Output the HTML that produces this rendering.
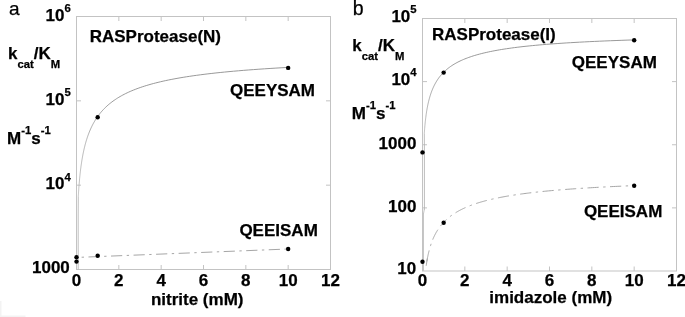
<!DOCTYPE html>
<html><head><meta charset="utf-8"><title>figure</title>
<style>
html,body{margin:0;padding:0;background:#fff;overflow:hidden;}
svg{display:block;font-family:"Liberation Sans",Arial,Helvetica,sans-serif;}
text{fill:#000;stroke:#000;stroke-width:0.25px;}
text[font-weight="bold"]{stroke:#000;stroke-width:0.25px;stroke-linejoin:round;}
</style></head><body>
<svg width="685" height="317" viewBox="0 0 685 317">
<rect width="685" height="317" fill="#fff"/>
<path d="M0 301h1.5v14.5h24v1.5h-25.5z" fill="#f3f3f3"/>
<defs><linearGradient id="gl" gradientUnits="userSpaceOnUse" x1="0" y1="95" x2="0" y2="175"><stop offset="0" stop-color="#868686"/><stop offset="1" stop-color="#b4b4b4"/></linearGradient><linearGradient id="gr" gradientUnits="userSpaceOnUse" x1="0" y1="70" x2="0" y2="135"><stop offset="0" stop-color="#868686"/><stop offset="1" stop-color="#b0b0b0"/></linearGradient></defs>
<rect x="76.5" y="16.5" width="254.0" height="253.0" fill="none" stroke="#c3c3c3" stroke-width="1"/>
<path d="M118.83 269.5v-4.5M118.83 16.5v4.5M161.17 269.5v-4.5M161.17 16.5v4.5M203.50 269.5v-4.5M203.50 16.5v4.5M245.83 269.5v-4.5M245.83 16.5v4.5M288.17 269.5v-4.5M288.17 16.5v4.5M76.5 185.17h4.5M330.5 185.17h-4.5M76.5 100.83h4.5M330.5 100.83h-4.5" stroke="#c3c3c3" stroke-width="1" fill="none"/>
<rect x="422.5" y="18.5" width="254.0" height="252.5" fill="none" stroke="#c3c3c3" stroke-width="1"/>
<path d="M464.83 271.0v-4.5M464.83 18.5v4.5M507.17 271.0v-4.5M507.17 18.5v4.5M549.50 271.0v-4.5M549.50 18.5v4.5M591.83 271.0v-4.5M591.83 18.5v4.5M634.17 271.0v-4.5M634.17 18.5v4.5M422.5 207.88h4.5M676.5 207.88h-4.5M422.5 144.75h4.5M676.5 144.75h-4.5M422.5 81.62h4.5M676.5 81.62h-4.5" stroke="#c3c3c3" stroke-width="1" fill="none"/>
<path d="M78.20 269.50 L78.20 215.00 L78.30 196.59 L78.35 195.63 L78.41 194.67 L78.47 193.71 L78.53 192.75 L78.59 191.78 L78.65 190.81 L78.72 189.84 L78.78 188.87 L78.85 187.90 L78.92 186.92 L79.00 185.95 L79.07 184.97 L79.15 183.99 L79.23 183.00 L79.31 182.02 L79.40 181.04 L79.49 180.05 L79.58 179.06 L79.67 178.08 L79.77 177.09 L79.86 176.10 L79.97 175.11 L80.07 174.12 L80.18 173.12 L80.29 172.13 L80.40 171.14 L80.52 170.15 L80.64 169.15 L80.77 168.16 L80.90 167.16 L81.03 166.17 L81.17 165.18 L81.31 164.18 L81.46 163.19 L81.61 162.19 L81.76 161.20 L81.92 160.21 L82.08 159.22 L82.25 158.22 L82.43 157.23 L82.60 156.24 L82.79 155.25 L82.98 154.26 L83.18 153.27 L83.38 152.28 L83.59 151.30 L83.80 150.31 L84.02 149.33 L84.25 148.34 L84.48 147.36 L84.72 146.38 L84.97 145.40 L85.23 144.43 L85.49 143.45 L85.76 142.48 L86.04 141.50 L86.33 140.53 L86.63 139.57 L86.94 138.60 L87.25 137.64 L87.58 136.68 L87.91 135.72 L88.26 134.76 L88.61 133.81 L88.98 132.85 L89.36 131.90 L89.75 130.96 L90.15 130.02 L90.56 129.08 L90.99 128.14 L91.42 127.20 L91.88 126.27 L92.34 125.35 L92.82 124.42 L93.31 123.50 L93.82 122.59 L94.35 121.67 L94.89 120.76 L95.44 119.86 L96.01 118.96 L96.60 118.06 L97.21 117.17 L97.84 116.28 L98.48 115.39 L99.15 114.51 L99.84 113.64 L100.54 112.77 L101.27 111.90 L102.02 111.04 L102.79 110.19 L103.58 109.34 L104.40 108.49 L105.25 107.65 L106.12 106.82 L107.01 105.99 L107.94 105.17 L108.89 104.35 L109.87 103.54 L110.88 102.74 L111.91 101.94 L112.99 101.14 L114.09 100.36 L115.23 99.58 L116.40 98.80 L117.60 98.03 L118.85 97.27 L120.13 96.52 L121.45 95.77 L122.81 95.03 L124.21 94.30 L125.65 93.57 L127.14 92.85 L128.67 92.14 L130.25 91.43 L131.87 90.73 L133.55 90.04 L135.27 89.36 L137.05 88.68 L138.88 88.01 L140.77 87.35 L142.71 86.70 L144.72 86.05 L146.78 85.42 L148.91 84.79 L151.10 84.17 L153.35 83.55 L155.68 82.95 L158.07 82.35 L160.54 81.76 L163.08 81.17 L165.70 80.60 L168.40 80.03 L171.18 79.48 L174.04 78.93 L176.99 78.38 L180.03 77.85 L183.16 77.32 L186.39 76.81 L189.71 76.30 L193.14 75.79 L196.66 75.30 L200.30 74.82 L204.04 74.34 L207.90 73.87 L211.87 73.41 L215.97 72.95 L220.19 72.51 L224.53 72.07 L229.01 71.64 L233.62 71.21 L238.38 70.80 L243.27 70.39 L248.32 69.99 L253.51 69.60 L258.87 69.21 L264.38 68.83 L270.07 68.46 L275.92 68.10 L281.95 67.74 L288.17 67.40" stroke="url(#gl)" stroke-width="0.85" fill="none"/>
<path d="M76.50 257.44 L288.17 249.00" stroke="#969696" stroke-width="0.85" fill="none" stroke-dasharray="11.2 4.5 2.35 4.5" stroke-dashoffset="10.55"/>
<circle cx="76.50" cy="257.20" r="2.2" fill="#000"/>
<circle cx="76.50" cy="261.59" r="2.2" fill="#000"/>
<circle cx="97.67" cy="255.82" r="2.2" fill="#000"/>
<circle cx="288.17" cy="249.00" r="2.2" fill="#000"/>
<circle cx="97.67" cy="117.29" r="2.2" fill="#000"/>
<circle cx="288.17" cy="67.89" r="2.2" fill="#000"/>
<path d="M424.40 210.00 L424.40 150.00 L424.30 133.35 L424.35 132.55 L424.41 131.75 L424.47 130.96 L424.53 130.17 L424.59 129.37 L424.65 128.58 L424.72 127.79 L424.78 126.99 L424.85 126.20 L424.92 125.41 L425.00 124.62 L425.07 123.83 L425.15 123.05 L425.23 122.26 L425.31 121.47 L425.40 120.69 L425.49 119.90 L425.58 119.12 L425.67 118.34 L425.77 117.56 L425.86 116.78 L425.97 116.00 L426.07 115.22 L426.18 114.44 L426.29 113.67 L426.40 112.89 L426.52 112.12 L426.64 111.34 L426.77 110.57 L426.90 109.80 L427.03 109.04 L427.17 108.27 L427.31 107.50 L427.46 106.74 L427.61 105.98 L427.76 105.21 L427.92 104.45 L428.08 103.70 L428.25 102.94 L428.43 102.19 L428.60 101.43 L428.79 100.68 L428.98 99.93 L429.18 99.18 L429.38 98.44 L429.59 97.70 L429.80 96.95 L430.02 96.21 L430.25 95.48 L430.48 94.74 L430.72 94.01 L430.97 93.28 L431.23 92.55 L431.49 91.82 L431.76 91.10 L432.04 90.38 L432.33 89.66 L432.63 88.94 L432.94 88.23 L433.25 87.52 L433.58 86.81 L433.91 86.11 L434.26 85.40 L434.61 84.71 L434.98 84.01 L435.36 83.32 L435.75 82.63 L436.15 81.94 L436.56 81.26 L436.99 80.58 L437.42 79.90 L437.88 79.23 L438.34 78.56 L438.82 77.89 L439.31 77.23 L439.82 76.57 L440.35 75.92 L440.89 75.27 L441.44 74.62 L442.01 73.98 L442.60 73.34 L443.21 72.71 L443.84 72.08 L444.48 71.45 L445.15 70.83 L445.84 70.21 L446.54 69.60 L447.27 68.99 L448.02 68.39 L448.79 67.79 L449.58 67.20 L450.40 66.61 L451.25 66.03 L452.12 65.45 L453.01 64.87 L453.94 64.31 L454.89 63.74 L455.87 63.18 L456.88 62.63 L457.91 62.08 L458.99 61.54 L460.09 61.01 L461.23 60.48 L462.40 59.95 L463.60 59.43 L464.85 58.92 L466.13 58.41 L467.45 57.91 L468.81 57.41 L470.21 56.92 L471.65 56.43 L473.14 55.95 L474.67 55.48 L476.25 55.01 L477.87 54.55 L479.55 54.10 L481.27 53.65 L483.05 53.20 L484.88 52.77 L486.77 52.33 L488.71 51.91 L490.72 51.49 L492.78 51.08 L494.91 50.67 L497.10 50.27 L499.35 49.87 L501.68 49.48 L504.07 49.10 L506.54 48.73 L509.08 48.36 L511.70 47.99 L514.40 47.63 L517.18 47.28 L520.04 46.93 L522.99 46.59 L526.03 46.26 L529.16 45.93 L532.39 45.61 L535.71 45.29 L539.14 44.98 L542.66 44.67 L546.30 44.37 L550.04 44.08 L553.90 43.79 L557.87 43.50 L561.97 43.23 L566.19 42.95 L570.53 42.69 L575.01 42.43 L579.62 42.17 L584.38 41.92 L589.27 41.67 L594.32 41.43 L599.51 41.19 L604.87 40.96 L610.38 40.74 L616.07 40.52 L621.92 40.30 L627.95 40.09 L634.17 39.88" stroke="url(#gr)" stroke-width="0.85" fill="none"/>
<path d="M423.45 271V214L424.4 209" stroke="#c3c3c3" stroke-width="1" fill="none"/>
<path d="M426.20 265.71 L426.27 265.25 L426.34 264.79 L426.40 264.33 L426.47 263.87 L426.54 263.41 L426.61 262.95 L426.68 262.49 L426.76 262.04 L426.83 261.58 L426.91 261.12 L426.99 260.67 L427.07 260.21 L427.15 259.75 L427.23 259.30 L427.31 258.84 L427.40 258.39 L427.48 257.93 L427.57 257.48 L427.66 257.02 L427.75 256.57 L427.84 256.12 L427.94 255.67 L428.03 255.21 L428.13 254.76 L428.23 254.31 L428.33 253.86 L428.43 253.41 L428.53 252.96 L428.64 252.51 L428.75 252.06 L428.86 251.61 L428.97 251.16 L429.08 250.72 L429.20 250.27 L429.32 249.82 L429.44 249.38 L429.56 248.93 L429.68 248.49 L429.81 248.04 L429.94 247.60 L430.07 247.16 L430.20 246.71 L430.34 246.27 L430.48 245.83 L430.62 245.39 L430.76 244.95 L430.90 244.51 L431.05 244.07 L431.20 243.63 L431.35 243.19 L431.51 242.75 L431.67 242.32 L431.83 241.88 L431.99 241.45 L432.16 241.01 L432.33 240.58 L432.50 240.14 L432.68 239.71 L432.86 239.28 L433.04 238.85 L433.23 238.42 L433.41 237.99 L433.61 237.56 L433.80 237.13 L434.00 236.70 L434.20 236.28 L434.41 235.85 L434.62 235.43 L434.83 235.00 L435.05 234.58 L435.27 234.16 L435.49 233.74 L435.72 233.32 L435.95 232.90 L436.19 232.48 L436.43 232.06 L436.68 231.64 L436.93 231.23 L437.18 230.81 L437.44 230.40 L437.70 229.98 L437.97 229.57 L438.24 229.16 L438.52 228.75 L438.80 228.34 L439.08 227.93 L439.38 227.52 L439.67 227.12 L439.97 226.71 L440.28 226.31 L440.59 225.91 L440.91 225.50 L441.24 225.10 L441.56 224.70 L441.90 224.31 L442.24 223.91 L442.59 223.51 L442.94 223.12 L443.30 222.72 L443.67 222.33" stroke="#969696" stroke-width="0.85" fill="none" stroke-dasharray="11.2 4.5 2.35 4.5" stroke-dashoffset="18.15"/>
<path d="M443.67 222.33 L443.91 222.07 L444.16 221.82 L444.41 221.56 L444.66 221.30 L444.92 221.04 L445.18 220.79 L445.44 220.53 L445.71 220.28 L445.98 220.02 L446.25 219.77 L446.52 219.52 L446.80 219.27 L447.08 219.01 L447.37 218.76 L447.66 218.51 L447.95 218.26 L448.24 218.01 L448.54 217.76 L448.84 217.52 L449.15 217.27 L449.46 217.02 L449.77 216.77 L450.08 216.53 L450.40 216.28 L450.73 216.04 L451.05 215.80 L451.38 215.55 L451.72 215.31 L452.06 215.07 L452.40 214.83 L452.74 214.59 L453.10 214.35 L453.45 214.11 L453.81 213.87 L454.17 213.63 L454.54 213.39 L454.91 213.16 L455.28 212.92 L455.66 212.69 L456.05 212.45 L456.44 212.22 L456.83 211.98 L457.23 211.75 L457.63 211.52 L458.03 211.29 L458.45 211.06 L458.86 210.83 L459.28 210.60 L459.71 210.37 L460.14 210.14 L460.58 209.92 L461.02 209.69 L461.46 209.47 L461.91 209.24 L462.37 209.02 L462.83 208.80 L463.30 208.57 L463.77 208.35 L464.25 208.13 L464.73 207.91 L465.22 207.69 L465.72 207.47 L466.22 207.26 L466.72 207.04 L467.24 206.82 L467.75 206.61 L468.28 206.39 L468.81 206.18 L469.34 205.97 L469.89 205.76 L470.43 205.54 L470.99 205.33 L471.55 205.12 L472.12 204.92 L472.69 204.71 L473.28 204.50 L473.86 204.29 L474.46 204.09 L475.06 203.88 L475.67 203.68 L476.28 203.48 L476.91 203.27 L477.54 203.07 L478.17 202.87 L478.82 202.67 L479.47 202.47 L480.13 202.28 L480.80 202.08 L481.47 201.88 L482.16 201.69 L482.85 201.49 L483.55 201.30 L484.25 201.11 L484.97 200.91 L485.69 200.72 L486.42 200.53 L487.16 200.34 L487.91 200.16 L488.67 199.97 L489.43 199.78 L490.21 199.60 L490.99 199.41 L491.79 199.23 L492.59 199.04 L493.40 198.86 L494.22 198.68 L495.05 198.50 L495.89 198.32 L496.74 198.14 L497.60 197.96 L498.47 197.79 L499.35 197.61 L500.24 197.43 L501.14 197.26 L502.05 197.09 L502.97 196.91 L503.91 196.74 L504.85 196.57 L505.80 196.40 L506.77 196.23 L507.74 196.06 L508.73 195.90 L509.73 195.73 L510.74 195.57 L511.76 195.40 L512.79 195.24 L513.84 195.08 L514.90 194.91 L515.97 194.75 L517.05 194.59 L518.14 194.43 L519.25 194.28 L520.37 194.12 L521.50 193.96 L522.65 193.81 L523.81 193.65 L524.98 193.50 L526.17 193.35 L527.37 193.20 L528.58 193.05 L529.81 192.90 L531.06 192.75 L532.31 192.60 L533.58 192.45 L534.87 192.31 L536.17 192.16 L537.49 192.02 L538.82 191.87 L540.17 191.73 L541.53 191.59 L542.91 191.45 L544.30 191.31 L545.71 191.17 L547.14 191.03 L548.58 190.89 L550.04 190.76 L551.52 190.62 L553.01 190.49 L554.52 190.35 L556.05 190.22 L557.60 190.09 L559.16 189.96 L560.75 189.83 L562.35 189.70 L563.97 189.57 L565.60 189.44 L567.26 189.31 L568.94 189.19 L570.63 189.06 L572.35 188.94 L574.08 188.82 L575.84 188.69 L577.61 188.57 L579.41 188.45 L581.23 188.33 L583.07 188.21 L584.92 188.10 L586.81 187.98 L588.71 187.86 L590.63 187.75 L592.58 187.63 L594.55 187.52 L596.54 187.41 L598.56 187.29 L600.60 187.18 L602.66 187.07 L604.74 186.96 L606.85 186.85 L608.99 186.75 L611.15 186.64 L613.33 186.53 L615.54 186.43 L617.78 186.32 L620.04 186.22 L622.33 186.11 L624.64 186.01 L626.98 185.91 L629.35 185.81 L631.74 185.71 L634.17 185.61" stroke="#969696" stroke-width="0.85" fill="none" stroke-dasharray="11.2 4.5 2.35 4.5" stroke-dashoffset="7.2"/>
<path d="M426.20 265.71 L426.33 264.81 L426.47 263.91 L426.60 263.01 L426.75 262.11 L426.89 261.21 L427.05 260.32 L427.20 259.43 L427.37 258.53" stroke="#969696" stroke-width="0.85" fill="none"/>
<circle cx="422.50" cy="152.38" r="2.2" fill="#000"/>
<circle cx="443.67" cy="72.60" r="2.2" fill="#000"/>
<circle cx="634.17" cy="40.30" r="2.2" fill="#000"/>
<circle cx="422.50" cy="261.78" r="2.2" fill="#000"/>
<circle cx="443.67" cy="222.81" r="2.2" fill="#000"/>
<circle cx="634.17" cy="185.80" r="2.2" fill="#000"/>
<text x="9" y="14.6" font-size="19" font-weight="normal" text-anchor="start" >a</text>
<text x="352.7" y="14.6" font-size="19.5" font-weight="normal" text-anchor="start" >b</text>
<text x="70.8" y="20.5" font-size="17" font-weight="bold" text-anchor="end">10<tspan font-size="11.3" dy="-8.4">6</tspan></text>
<text x="70.8" y="104.7" font-size="17" font-weight="bold" text-anchor="end">10<tspan font-size="11.3" dy="-8.4">5</tspan></text>
<text x="70.8" y="189" font-size="17" font-weight="bold" text-anchor="end">10<tspan font-size="11.3" dy="-8.4">4</tspan></text>
<text x="69.8" y="273" font-size="17" font-weight="bold" text-anchor="end" >1000</text>
<text x="416.6" y="21.6" font-size="17" font-weight="bold" text-anchor="end">10<tspan font-size="11.3" dy="-8.4">5</tspan></text>
<text x="416.6" y="84.7" font-size="17" font-weight="bold" text-anchor="end">10<tspan font-size="11.3" dy="-8.4">4</tspan></text>
<text x="416.4" y="148.7" font-size="17" font-weight="bold" text-anchor="end" >1000</text>
<text x="416.4" y="211.8" font-size="17" font-weight="bold" text-anchor="end" >100</text>
<text x="416.2" y="274.3" font-size="17" font-weight="bold" text-anchor="end" >10</text>
<text x="76.5" y="286.2" font-size="17" font-weight="bold" text-anchor="middle" >0</text>
<text x="118.8" y="286.2" font-size="17" font-weight="bold" text-anchor="middle" >2</text>
<text x="161.2" y="286.2" font-size="17" font-weight="bold" text-anchor="middle" >4</text>
<text x="203.5" y="286.2" font-size="17" font-weight="bold" text-anchor="middle" >6</text>
<text x="245.8" y="286.2" font-size="17" font-weight="bold" text-anchor="middle" >8</text>
<text x="288.2" y="286.2" font-size="17" font-weight="bold" text-anchor="middle" >10</text>
<text x="330.5" y="286.2" font-size="17" font-weight="bold" text-anchor="middle" >12</text>
<text x="422.5" y="286.2" font-size="17" font-weight="bold" text-anchor="middle" >0</text>
<text x="464.8" y="286.2" font-size="17" font-weight="bold" text-anchor="middle" >2</text>
<text x="507.2" y="286.2" font-size="17" font-weight="bold" text-anchor="middle" >4</text>
<text x="549.5" y="286.2" font-size="17" font-weight="bold" text-anchor="middle" >6</text>
<text x="591.8" y="286.2" font-size="17" font-weight="bold" text-anchor="middle" >8</text>
<text x="634.2" y="286.2" font-size="17" font-weight="bold" text-anchor="middle" >10</text>
<text x="676.5" y="286.2" font-size="17" font-weight="bold" text-anchor="middle" >12</text>
<text x="197.2" y="304.9" font-size="17" font-weight="bold" text-anchor="middle" >nitrite (mM)</text>
<text x="550.7" y="302.7" font-size="17" font-weight="bold" text-anchor="middle" >imidazole (mM)</text>
<text x="89.7" y="41.9" font-size="17" font-weight="bold" text-anchor="start" >RASProtease(N)</text>
<text x="432" y="40" font-size="17" font-weight="bold" text-anchor="start" >RASProtease(I)</text>
<text x="230" y="96" font-size="17" font-weight="bold" text-anchor="start" >QEEYSAM</text>
<text x="239.4" y="235.7" font-size="17" font-weight="bold" text-anchor="start" >QEEISAM</text>
<text x="571.8" y="67.5" font-size="17" font-weight="bold" text-anchor="start" >QEEYSAM</text>
<text x="583.9" y="216.7" font-size="17" font-weight="bold" text-anchor="start" >QEEISAM</text>
<text x="8" y="58.9" font-size="17" font-weight="bold">k<tspan font-size="11.3" dy="9.5">cat</tspan><tspan dy="-9.5">/K</tspan><tspan font-size="11.3" dy="9.5">M</tspan></text>
<text x="7" y="143.9" font-size="17" font-weight="bold">M<tspan font-size="11.3" dy="-9.8">-1</tspan><tspan dy="9.8">s</tspan><tspan font-size="11.3" dy="-9.8">-1</tspan></text>
<text x="352.2" y="50.8" font-size="17" font-weight="bold">k<tspan font-size="11.3" dy="9.5">cat</tspan><tspan dy="-9.5">/K</tspan><tspan font-size="11.3" dy="9.5">M</tspan></text>
<text x="351.8" y="118.9" font-size="17" font-weight="bold">M<tspan font-size="11.3" dy="-9.8">-1</tspan><tspan dy="9.8">s</tspan><tspan font-size="11.3" dy="-9.8">-1</tspan></text>
</svg>
</body></html>
